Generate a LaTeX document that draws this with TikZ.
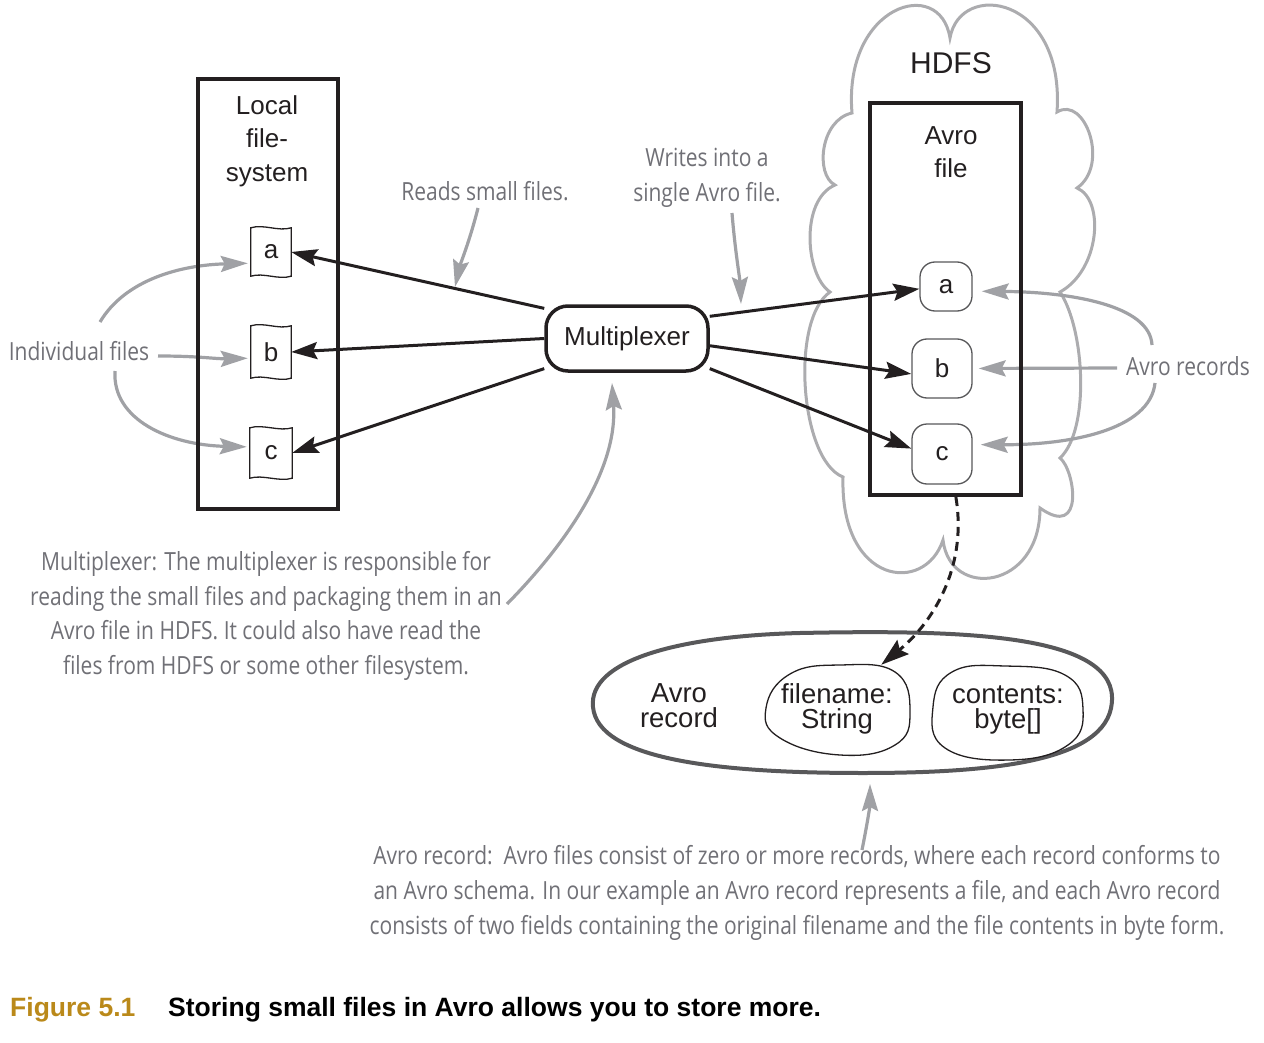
\documentclass[tikz,border=0pt]{standalone}
\usepackage{fontspec}
\setmainfont{Liberation Sans}
\newfontfamily\hand{Open Sans}[FakeStretch=0.84]
\usetikzlibrary{arrows.meta,calc,backgrounds}
\definecolor{ink}{RGB}{35,31,32}
\definecolor{cloudgray}{RGB}{172,172,175}
\definecolor{arrgray}{RGB}{160,161,165}
\definecolor{handgray}{RGB}{112,112,118}
\definecolor{recgray}{RGB}{88,88,90}
\definecolor{gold}{RGB}{186,137,26}
\newcommand{\wavydoc}[1]{\draw[ink,line width=1.3pt] (#1.north west) .. controls ([xshift=13pt,yshift=4pt]#1.north west) and ([xshift=-13pt,yshift=-4pt]#1.north east) .. (#1.north east) -- (#1.south east) .. controls ([xshift=-13pt,yshift=-4pt]#1.south east) and ([xshift=13pt,yshift=4pt]#1.south west) .. (#1.south west) -- cycle;}
\begin{document}
\begin{tikzpicture}[x=1pt,y=-1pt,
  every node/.style={inner sep=0pt, text=ink},
  maintext/.style={font=\fontsize{26}{33.5}\selectfont, align=center},
  rectext/.style={font=\fontsize{27.5}{25}\selectfont, align=center},
  handtext/.style={font=\hand\fontsize{25}{34.5}\selectfont, text=handgray, align=center},
  container/.style={draw=ink, line width=4.2pt},
  docnode/.style={minimum width=40pt, font=\fontsize{26}{30}\selectfont},
  recnode/.style={draw=recgray, line width=1.3pt, rounded corners=15pt, fill=white, font=\fontsize{26}{30}\selectfont},
  muxbox/.style={draw=ink, line width=3.5pt, rounded corners=22pt, fill=white, minimum width=162pt, minimum height=65pt, font=\fontsize{26}{30}\selectfont},
  blackarrow/.style={draw=ink, line width=3pt, -{Stealth[length=26pt,width=17pt,inset=4pt]}},
  grayarrow/.style={draw=arrgray, line width=3.2pt, -{Stealth[length=27pt,width=16pt,inset=4pt]}},
  dasharrow/.style={draw=ink, line width=3pt, dash pattern=on 9pt off 6pt, -{Stealth[length=28pt,width=18pt,inset=4pt]}},
  blob/.style={draw=ink, line width=1.3pt},
]
\useasboundingbox (0,0) rectangle (1264,1043);

% containers
\node[container, minimum width=140pt, minimum height=430pt] (lfs) at (268,294) {};
\node[maintext] (lfslabel) at (267,141) {Local\\file-\\system};
\node[container, minimum width=151pt, minimum height=392pt] (afile) at (945.5,299) {};
\node[maintext] (afilelabel) at (951,152) {Avro\\file};
\node[font=\fontsize{30}{34}\selectfont] (hdfs) at (951,63) {HDFS};

% local files
\node[docnode, minimum height=48pt] (la) at (271,252) {a};
\node[docnode, minimum height=52pt] (lb) at (271,352) {b};
\node[docnode, minimum width=42pt, minimum height=50pt] (lc) at (271,453) {c};
\wavydoc{la}
\wavydoc{lb}
\wavydoc{lc}

% multiplexer
\node[muxbox] (mux) at (627,338.5) {Multiplexer};

% avro records in file
\node[recnode, minimum width=52pt, minimum height=49pt] (ra) at (946,286.5) {a};
\node[recnode, minimum width=60pt, minimum height=59pt] (rb) at (942,368.5) {b};
\node[recnode, minimum width=60pt, minimum height=60pt] (rc) at (942,454) {c};

% labels
\node[handtext] (indiv) at (79,351) {Individual files};
\node[handtext] (avrorecs) at (1188,366) {Avro records};
\node[handtext] (reads) at (485,191) {Reads small files.};
\node[handtext] (writes) at (707,178) {Writes into a\\single Avro file.};
\node[handtext] (annmux) at (266,616) {Multiplexer: The multiplexer is responsible for\\reading the small files and packaging them in an\\Avro file in HDFS. It could also have read the\\files from HDFS or some other filesystem.};
\node[handtext, font=\hand\fontsize{25}{35}\selectfont] (annrec) at (797,893) {Avro record:\ \ Avro files consist of zero or more records, where each record conforms to\\an Avro schema. In our example an Avro record represents a file, and each Avro record\\consists of two fields containing the original filename and the file contents in byte form.};

% avro record shape
\draw[recgray, line width=4pt] (593,707) .. controls (588,660) and (680,636) .. (800,633)
  .. controls (950,630) and (1110,632) .. (1112,697)
  .. controls (1114,760) and (1000,773) .. (863,773)
  .. controls (720,773) and (598,760) .. cycle;
\node[rectext] (avrorec) at (679,706) {Avro\\record};
\draw[blob] plot[smooth cycle, tension=0.75] coordinates {(766,708) (790,674) (840,665) (895,672) (910,712) (895,745) (840,755) (780,738)};
\draw[blob] plot[smooth cycle, tension=0.75] coordinates {(933,707) (952,672) (1005,666) (1065,675) (1083,709) (1068,745) (1010,760) (945,748)};
\node[rectext, minimum width=143pt, minimum height=88pt] (fname) at (837,709) {filename:\\String};
\node[rectext] (fcont) at (1008,710) {contents:\\byte[]};

% free ends of the annotation arrows
\coordinate (i1) at (100,322);
\coordinate (i2) at (158,356);
\coordinate (i3) at (115,371);
\coordinate (r1) at (1152,345);
\coordinate (r2) at (1117,368);
\coordinate (r3) at (1155,383);
\coordinate (readsfrom) at (478,208);
\coordinate (readsto) at (455,287);
\coordinate (writesfrom) at (732,213);
\coordinate (writesto) at (741,304);
\coordinate (muxfrom) at (507,604);
\coordinate (muxtip) at (612,383);
\coordinate (recfrom) at (862,850);
\coordinate (rectip) at (870,784);

\begin{scope}[on background layer]
  % HDFS cloud
  \draw[cloudgray, line width=3pt] (852,113) .. controls (843,5) and (940,-25) .. (950,38)
    .. controls (960,-20) and (1065,-5) .. (1057,112)
    .. controls (1085,95) and (1110,165) .. (1077,188)
    .. controls (1105,200) and (1100,270) .. (1060,292)
    .. controls (1085,330) and (1090,430) .. (1060,458)
    .. controls (1075,470) and (1085,540) .. (1040,508)
    .. controls (1040,590) and (950,600) .. (943,540)
    .. controls (925,595) and (840,585) .. (843,477)
    .. controls (800,460) and (790,320) .. (830,292)
    .. controls (805,275) and (800,200) .. (835,185)
    .. controls (815,175) and (820,120) .. cycle;
  % gray annotation arrows
  \draw[grayarrow, shorten >=3pt] (i1) .. controls (125,280) and (180,265) .. (la.209);
  \draw[grayarrow, shorten >=3pt] (i2) .. controls (200,356) and (215,359) .. (lb.197);
  \draw[grayarrow, shorten >=3pt] (i3) .. controls (112,420) and (170,445) .. (lc.164);
  \draw[grayarrow, shorten >=9pt] (r1) .. controls (1150,305) and (1070,292) .. (ra.-10);
  \draw[grayarrow, shorten >=6pt] (r2) -- (rb.east);
  \draw[grayarrow, shorten >=8pt] (r3) .. controls (1150,430) and (1070,445) .. (rc.17);
  \draw[grayarrow] (readsfrom) .. controls (470,240) and (460,265) .. (readsto);
  \draw[grayarrow] (writesfrom) .. controls (735,250) and (740,280) .. (writesto);
  \draw[grayarrow] (muxfrom) .. controls (565,545) and (618,470) .. (muxtip);
  \draw[grayarrow] (recfrom) .. controls (868,820) and (870,805) .. (rectip);
  % black connectors
  \draw[blackarrow] (mux.160) -- (la.east);
  \draw[blackarrow] (mux.west) -- (lb.east);
  \draw[blackarrow] (mux.200) -- (lc.east);
  \draw[blackarrow] (mux.15) -- (ra.185);
  \draw[blackarrow] (mux.-5) -- (rb.190);
  \draw[blackarrow] (mux.-20) -- (rc.170);
\end{scope}

% dashed connector
\draw[dasharrow] (afile.-87) .. controls (968,570) and (930,625) .. (fname.45);

% caption
\node[anchor=base west, font=\bfseries\fontsize{26.5}{30}\selectfont, text=gold] (fig) at (10,1016) {Figure 5.1};
\node[anchor=base west, font=\bfseries\fontsize{26.5}{30}\selectfont, text=black] (cap) at (168,1016) {Storing small files in Avro allows you to store more.};
\end{tikzpicture}
\end{document}
